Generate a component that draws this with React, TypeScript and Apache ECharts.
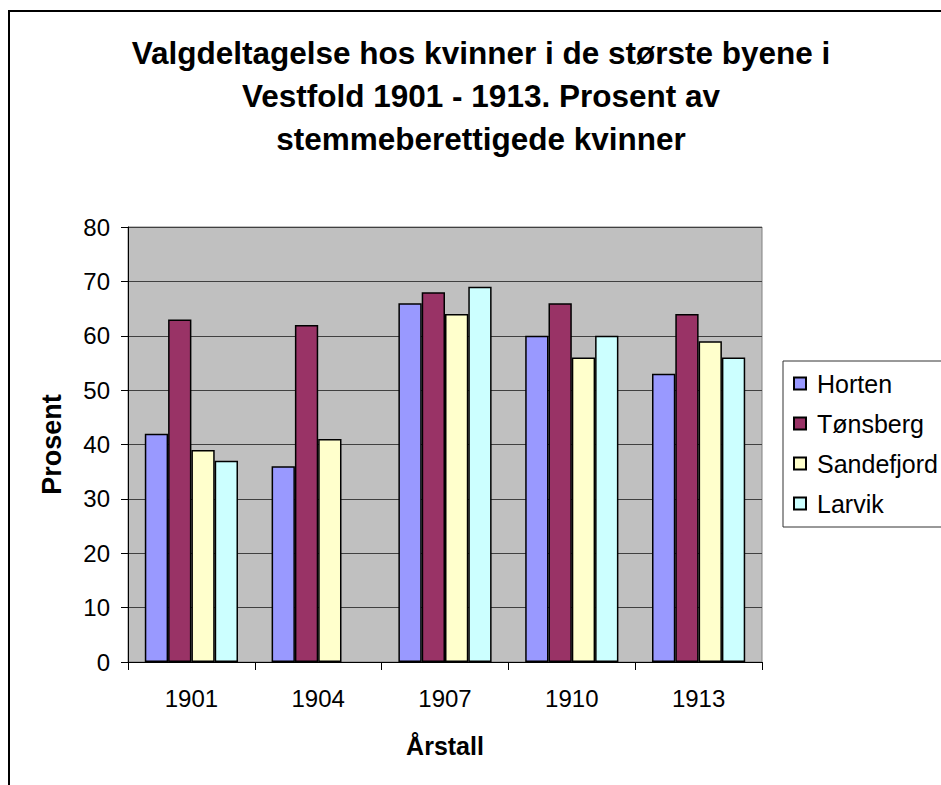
import React, { useEffect, useRef } from "react";
import * as echarts from "echarts";

const years = ["1901", "1904", "1907", "1910", "1913"];
const horten = [42, 36, 66, 60, 53];
const tonsberg = [63, 62, 68, 66, 64];
const sandefjord = [39, 41, 64, 56, 59];
const larvik: (number | string)[] = [37, "-", 69, 60, 56];
const seriesNames = ["Horten", "Tønsberg", "Sandefjord", "Larvik"];
const seriesColors = ["#9999FF", "#993366", "#FFFFCC", "#CCFFFF"];
const titleText =
  "Valgdeltagelse hos kvinner i de største byene i\nVestfold 1901 - 1913. Prosent av\nstemmeberettigede kvinner";

const FONT = "'Liberation Sans', Arial, sans-serif";

export default function App() {
  const ref = useRef<HTMLDivElement>(null);
  useEffect(() => {
    if (!ref.current) return;
    const chart = echarts.init(ref.current, undefined, { renderer: "svg" });
    const data = [horten, tonsberg, sandefjord, larvik];
    chart.setOption({
      animation: false,
      textStyle: { fontFamily: FONT },
      graphic: [
        {
          type: "text",
          x: 481,
          y: 31,
          style: {
            text: titleText,
            font: `bold 31.5px ${FONT}`,
            fill: "#000",
            textAlign: "center",
            textVerticalAlign: "top",
            lineHeight: 43,
          },
        },
      ],
      grid: {
        left: 128,
        right: 179,
        top: 227,
        bottom: 123,
        show: true,
        backgroundColor: "#C0C0C0",
        borderColor: "#808080",
        borderWidth: 1,
      },
      legend: {
        orient: "vertical",
        left: 783,
        top: 361,
        padding: [10, 40, 11, 10],
        itemGap: 15,
        itemWidth: 12,
        itemHeight: 12,
        borderColor: "#333",
        borderWidth: 1,
        backgroundColor: "#fff",
        icon: "rect",
        textStyle: {
          fontSize: 25,
          color: "#000",
          fontFamily: FONT,
          padding: [0, 0, 0, 6],
        },
        data: seriesNames,
      },
      xAxis: {
        type: "category",
        data: years,
        name: "Årstall",
        nameLocation: "middle",
        nameGap: 71,
        nameTextStyle: { fontSize: 25, fontWeight: "bold", color: "#000", fontFamily: FONT },
        axisLine: { show: true, lineStyle: { color: "#000", width: 1 } },
        axisTick: { show: true, length: 8, lineStyle: { color: "#000" } },
        axisLabel: { fontSize: 24, color: "#000", margin: 24, fontFamily: FONT },
      },
      yAxis: {
        type: "value",
        min: 0,
        max: 80,
        interval: 10,
        name: "Prosent",
        nameLocation: "middle",
        nameGap: 63,
        nameTextStyle: { fontSize: 27, fontWeight: "bold", color: "#000", fontFamily: FONT },
        axisLine: { show: true, lineStyle: { color: "#000", width: 1 } },
        axisTick: { show: true, length: 7, lineStyle: { color: "#000" } },
        axisLabel: { fontSize: 24, color: "#000", margin: 18, fontFamily: FONT },
        splitLine: { show: true, lineStyle: { color: "#404040", width: 1 } },
      },
      series: seriesNames.map((name, i) => ({
        name,
        type: "bar",
        data: data[i],
        barGap: "0%",
        barCategoryGap: "26.5%",
        itemStyle: { color: seriesColors[i], borderColor: "#000", borderWidth: 1.5 },
      })),
    });
    return () => chart.dispose();
  }, []);

  return (
    <div
      style={{
        position: "fixed",
        left: 0,
        top: 0,
        width: 941,
        height: 785,
        overflow: "hidden",
        background: "#fff",
      }}
    >
      <div
        style={{
          position: "absolute",
          left: 8,
          top: 10,
          width: 2000,
          height: 2000,
          borderTop: "2px solid #000",
          borderLeft: "2px solid #000",
        }}
      />
      <div ref={ref} style={{ position: "absolute", left: 0, top: 0, width: 941, height: 785 }} />
    </div>
  );
}
